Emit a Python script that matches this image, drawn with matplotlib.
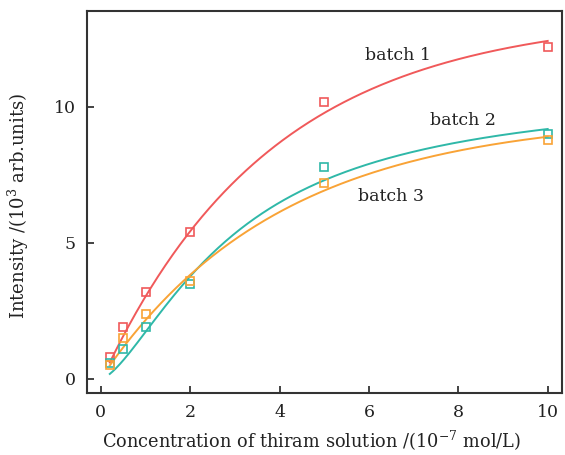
import numpy as np
import matplotlib
matplotlib.use("Agg")
import matplotlib.pyplot as plt

plt.rcParams['font.family'] = ['DejaVu Serif']
plt.rcParams['mathtext.fontset'] = 'dejavuserif'

conc = [0.2, 0.5, 1, 2, 5, 10]
batch1 = [0.8, 1.9, 3.2, 5.4, 10.2, 12.2]
batch2 = [0.6, 1.1, 1.9, 3.5, 7.8, 9.0]
batch3 = [0.5, 1.5, 2.4, 3.6, 7.2, 8.8]

# fitted curve parameters
fit1 = dict(A=13.4, B=13.49, t=3.8)   # exponential rise: A - B*exp(-x/t)
fit2 = dict(A=10.7, k=3.0, n=1.5)     # Hill: A*x^n/(k^n+x^n)
fit3 = dict(A=9.7, B=9.68, t=4.0)     # exponential rise

colors = ['#f0595a', '#2fb8a8', '#f9a336']
labels = ['batch 1', 'batch 2', 'batch 3']
label_pos = [(6.65, 11.9), (8.1, 9.5), (6.5, 6.7)]

fig = plt.figure(figsize=(5.65, 4.55), dpi=100)
ax = fig.add_axes([87/565, (455-393)/455, (562-87)/565, (393-11)/455])

xf = np.linspace(0.2, 10, 300)
c1 = fit1['A'] - fit1['B'] * np.exp(-xf / fit1['t'])
c2 = fit2['A'] * xf**fit2['n'] / (fit2['k']**fit2['n'] + xf**fit2['n'])
c3 = fit3['A'] - fit3['B'] * np.exp(-xf / fit3['t'])

for ys, c in zip([c1, c2, c3], colors):
    ax.plot(xf, ys, color=c, lw=1.4)
for ys, c in zip([batch1, batch2, batch3], colors):
    ax.plot(conc, ys, 's', mfc='none', mec=c, ms=5.5, mew=1.2)

for (x, y), t in zip(label_pos, labels):
    ax.text(x, y, t, ha='center', va='center', fontsize=12.5, color='#222222')

ax.set_xlim(-0.31, 10.32)
ax.set_ylim(-0.52, 13.53)
ax.set_xticks([0, 2, 4, 6, 8, 10])
ax.set_yticks([0, 5, 10])
ax.tick_params(direction='in', length=5, width=1.2, labelsize=12.5, colors='#222222', pad=8)
for s in ax.spines.values():
    s.set_linewidth(1.5)
    s.set_color('#333333')
ax.set_xlabel(r'Concentration of thiram solution /(10$^{-7}$ mol/L)', fontsize=12.8, color='#222222')
ax.set_ylabel(r'Intensity /(10$^3$ arb.units)', fontsize=13, color='#222222')
ax.xaxis.set_label_coords(0.472, -0.095)
ax.yaxis.set_label_coords(-0.118, 0.49)

fig.savefig('out.png', dpi=100)
